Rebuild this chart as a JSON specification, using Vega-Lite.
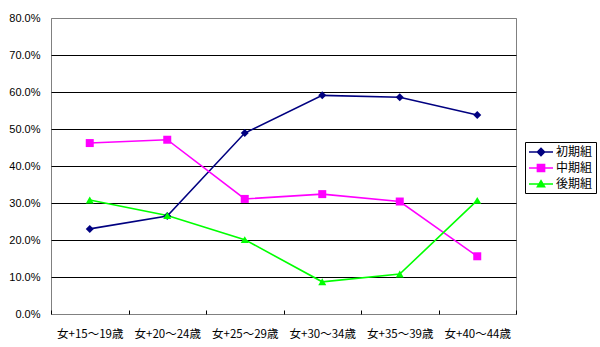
{
  "$schema": "https://vega.github.io/schema/vega-lite/v6.json",
  "width": 465,
  "height": 296,
  "autosize": {"type": "none"},
  "padding": {"left": 51, "top": 18, "right": 84, "bottom": 33},
  "background": "#ffffff",
  "config": {
    "view": {"stroke": "#808080", "strokeWidth": 1},
    "axis": {"labelColor": "#000", "domain": false}
  },
  "data": {
    "values": [
      {"age": "女+15～19歳", "series": "初期組", "value": 23.0},
      {"age": "女+20～24歳", "series": "初期組", "value": 26.5},
      {"age": "女+25～29歳", "series": "初期組", "value": 48.9},
      {"age": "女+30～34歳", "series": "初期組", "value": 59.1},
      {"age": "女+35～39歳", "series": "初期組", "value": 58.6},
      {"age": "女+40～44歳", "series": "初期組", "value": 53.8},
      {"age": "女+15～19歳", "series": "中期組", "value": 46.2},
      {"age": "女+20～24歳", "series": "中期組", "value": 47.1},
      {"age": "女+25～29歳", "series": "中期組", "value": 31.1},
      {"age": "女+30～34歳", "series": "中期組", "value": 32.4},
      {"age": "女+35～39歳", "series": "中期組", "value": 30.4},
      {"age": "女+40～44歳", "series": "中期組", "value": 15.6},
      {"age": "女+15～19歳", "series": "後期組", "value": 30.8},
      {"age": "女+20～24歳", "series": "後期組", "value": 26.6},
      {"age": "女+25～29歳", "series": "後期組", "value": 20.1},
      {"age": "女+30～34歳", "series": "後期組", "value": 8.7},
      {"age": "女+35～39歳", "series": "後期組", "value": 10.8},
      {"age": "女+40～44歳", "series": "後期組", "value": 30.7}
    ]
  },
  "encoding": {
    "x": {
      "field": "age",
      "type": "nominal",
      "sort": null,
      "scale": {"paddingInner": 0, "paddingOuter": 0},
      "axis": {
        "title": null,
        "labelAngle": 0,
        "labelFont": "Noto Sans CJK JP",
        "labelFontSize": 11.5,
        "labelPadding": 18,
        "tickBand": "extent",
        "tickSize": -4,
        "tickColor": "#000",
        "grid": false
      }
    },
    "y": {
      "field": "value",
      "type": "quantitative",
      "scale": {"domain": [0, 80], "nice": false},
      "axis": {
        "title": null,
        "values": [0, 10, 20, 30, 40, 50, 60, 70, 80],
        "labelExpr": "format(datum.value / 100, '.1%')",
        "labelFont": "Liberation Sans",
        "labelFontSize": 11,
        "labelPadding": 11,
        "ticks": false,
        "grid": true,
        "gridColor": {"condition": {"test": "datum.value == 0 || datum.value == 80", "value": "#808080"}, "value": "#000000"},
        "gridOpacity": 1,
        "gridWidth": 1
      }
    },
    "color": {
      "field": "series",
      "type": "nominal",
      "scale": {"domain": ["初期組", "中期組", "後期組"], "range": ["#000080", "#FF00FF", "#00FF00"]},
      "legend": {
        "title": null,
        "orient": "none",
        "legendX": 474,
        "legendY": 124,
        "strokeColor": "#000",
        "fillColor": "#fff",
        "padding": 3,
        "symbolSize": 144,
        "symbolStrokeWidth": 1.5,
        "rowPadding": 2,
        "labelFont": "Noto Sans CJK JP",
        "labelFontSize": 12,
        "labelColor": "#000",
        "labelOffset": 14,
        "encode": {
          "symbols": {
            "update": {
              "shape": {"signal": "datum.value === '初期組' ? 'M-1,0L3,0M1,-0.6L1.6,0L1,0.6L0.4,0Z' : datum.value === '中期組' ? 'M-1,0L3,0M0.4,-0.6L1.6,-0.6L1.6,0.6L0.4,0.6Z' : 'M-1,0L3,0M1,-0.55L1.6,0.45L0.4,0.45Z'"},
              "stroke": {"scale": "color", "field": "value"},
              "fill": {"scale": "color", "field": "value"},
              "strokeWidth": {"value": 1.5},
              "opacity": {"value": 1}
            }
          }
        }
      }
    }
  },
  "layer": [
    {"mark": {"type": "line", "strokeWidth": 1.6}},
    {
      "mark": {"type": "point", "filled": true, "opacity": 1, "size": 64},
      "encoding": {
        "shape": {
          "condition": [
            {"test": "datum.series === '初期組'", "value": "diamond"},
            {"test": "datum.series === '中期組'", "value": "square"}
          ],
          "value": "triangle-up"
        }
      }
    }
  ]
}
